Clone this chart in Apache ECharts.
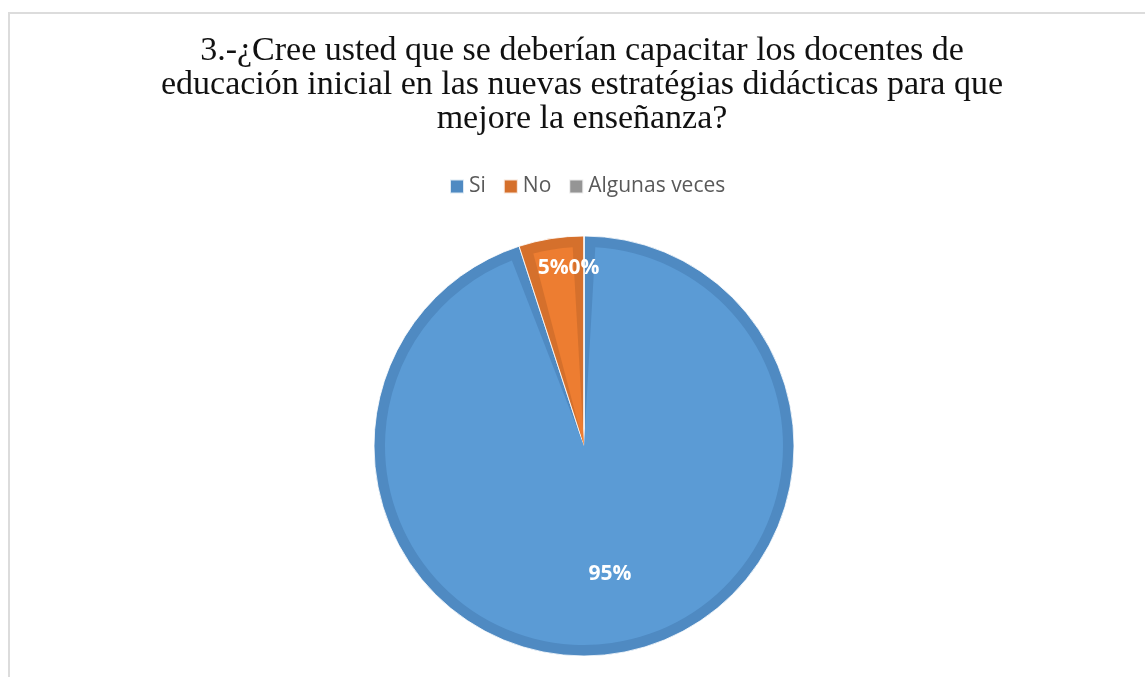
<!DOCTYPE html>
<html>
<head>
<meta charset="utf-8">
<script src="https://cdn.jsdelivr.net/npm/echarts@6/dist/echarts.min.js"></script>
<style>
  html, body { margin: 0; padding: 0; background: #fff; }
  .frame {
    position: absolute;
    left: 8px;
    top: 12px;
    width: 1200px;
    height: 700px;
    border-left: 2px solid #dcdcdc;
    border-top: 2px solid #dcdcdc;
  }
  #chart { position: absolute; left: 0; top: 0; width: 1145px; height: 677px; }
</style>
</head>
<body>
<div class="frame"></div>
<div id="chart"></div>
<script>
  // datos de la encuesta (porcentaje)
  var categorias = ['Si', 'No', 'Algunas veces'];
  var valores = [95, 5, 0];

  var coloresClaros = ['#5b9bd5', '#ed7d31', '#a5a5a5'];
  var coloresOscuros = ['#4f8ac2', '#d5702c', '#959595'];
  var desplazEtiqueta = [[9, 21], [-14, -71], [0, -70]];

  var titulo = '3.-¿Cree usted que se deberían capacitar los docentes de\n' +
    'educación inicial en las nuevas estratégias didácticas para que\n' +
    'mejore la enseñanza?';

  var chart = echarts.init(document.getElementById('chart'));

  var option = {
    animation: false,
    title: {
      text: titulo,
      left: 577,
      top: 29,
      textAlign: 'center',
      textStyle: {
        fontFamily: 'Liberation Serif',
        fontWeight: 'normal',
        fontSize: 34,
        lineHeight: 34,
        color: '#111'
      }
    },
    legend: {
      data: categorias,
      left: 444,
      top: 171,
      icon: 'rect',
      itemWidth: 14,
      itemHeight: 14,
      itemGap: 17,
      selectedMode: false,
      textStyle: {
        fontFamily: 'Open Sans',
        fontSize: 21,
        color: '#595959'
      }
    },
    series: [
      {
        // capa oscura (borde) + etiquetas
        type: 'pie',
        center: [584, 446],
        radius: 210,
        silent: true,
        clockwise: true,
        startAngle: 90,
        avoidLabelOverlap: false,
        labelLayout: { hideOverlap: false },
        labelLine: { show: false },
        label: {
          show: true,
          position: 'inside',
          formatter: '{d}%',
          color: '#fff',
          fontFamily: 'Open Sans',
          fontWeight: 'bold',
          fontSize: 21
        },
        itemStyle: { borderColor: 'rgba(255,255,255,0.8)', borderWidth: 1 },
        data: categorias.map(function (c, i) {
          return {
            name: c,
            value: valores[i],
            itemStyle: { color: coloresOscuros[i] },
            label: { offset: desplazEtiqueta[i] }
          };
        })
      },
      {
        // relleno claro
        type: 'pie',
        center: [584, 446],
        radius: 199,
        padAngle: 6.5,
        silent: true,
        clockwise: true,
        startAngle: 90,
        label: { show: false },
        labelLine: { show: false },
        data: categorias.map(function (c, i) {
          return {
            name: c,
            value: valores[i] > 0 ? valores[i] : '-',
            itemStyle: { color: coloresClaros[i] }
          };
        })
      }
    ]
  };

  chart.setOption(option);
</script>
</body>
</html>
